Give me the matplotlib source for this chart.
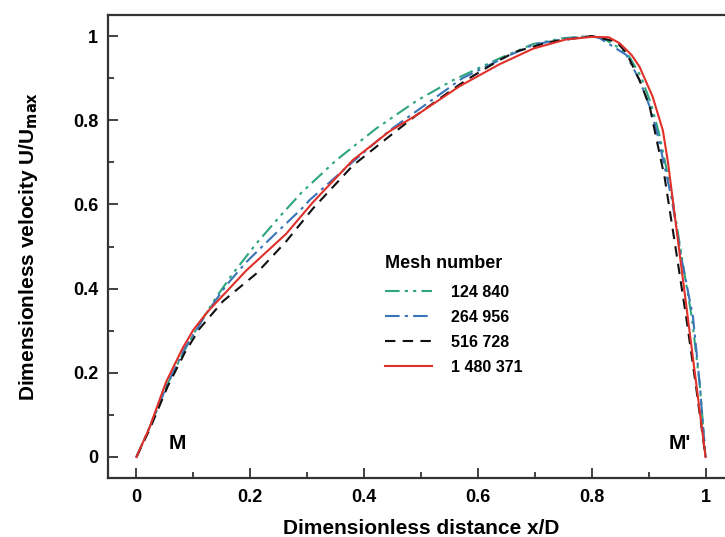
"""Velocity profile across the section for four mesh sizes."""
import matplotlib
matplotlib.use("Agg")
import matplotlib.pyplot as plt

# mesh labels
MESHES = ["124 840", "264 956", "516 728", "1 480 371"]

# 124 840 (green dash-dot-dot)
x_g = [0, 0.023, 0.055, 0.085, 0.11, 0.140, 0.169, 0.210, 0.251, 0.290, 0.351, 0.421,
       0.492, 0.556, 0.638, 0.697, 0.75, 0.80, 0.82, 0.862, 0.886, 0.904, 0.918, 0.94,
       0.96, 0.976, 0.99, 1.0]
y_g = [0, 0.07, 0.175, 0.255, 0.315, 0.379, 0.435, 0.506, 0.570, 0.628, 0.705, 0.780,
       0.846, 0.895, 0.947, 0.981, 0.995, 1.0, 0.995, 0.96, 0.905, 0.84, 0.77, 0.63,
       0.46, 0.33, 0.17, 0.0]

# 264 956 (blue dash-dot)
x_b = [0, 0.023, 0.055, 0.085, 0.125, 0.158, 0.193, 0.240, 0.292, 0.304, 0.380, 0.445,
       0.509, 0.573, 0.650, 0.697, 0.75, 0.80, 0.814, 0.861, 0.884, 0.902, 0.915, 0.94,
       0.958, 0.978, 0.99, 1.0]
y_b = [0, 0.07, 0.175, 0.258, 0.345, 0.408, 0.463, 0.525, 0.592, 0.610, 0.701, 0.776,
       0.838, 0.900, 0.951, 0.979, 0.993, 1.0, 0.995, 0.955, 0.895, 0.832, 0.77, 0.617,
       0.47, 0.332, 0.17, 0.0]

# 516 728 (black dashed)
x_k = [0, 0.023, 0.055, 0.085, 0.111, 0.152, 0.210, 0.263, 0.310, 0.380, 0.439, 0.492,
       0.550, 0.579, 0.638, 0.667, 0.726, 0.80, 0.843, 0.861, 0.884, 0.902, 0.913, 0.928,
       0.947, 0.966, 0.983, 1.0]
y_k = [0, 0.065, 0.168, 0.248, 0.305, 0.37, 0.435, 0.512, 0.59, 0.692, 0.756, 0.812,
       0.868, 0.895, 0.943, 0.963, 0.986, 1.0, 0.987, 0.96, 0.895, 0.832, 0.76, 0.665,
       0.50, 0.332, 0.17, 0.0]

# 1 480 371 (red solid)
x_r = [0, 0.023, 0.052, 0.081, 0.10, 0.125, 0.193, 0.263, 0.310, 0.380, 0.445, 0.492,
       0.568, 0.638, 0.697, 0.755, 0.80, 0.83, 0.849, 0.87, 0.884, 0.907, 0.925, 0.934,
       0.951, 0.968, 0.984, 1.0]
y_r = [0, 0.07, 0.178, 0.258, 0.302, 0.345, 0.443, 0.530, 0.605, 0.705, 0.774, 0.812,
       0.881, 0.933, 0.970, 0.992, 0.998, 0.997, 0.983, 0.955, 0.927, 0.856, 0.776, 0.70,
       0.52, 0.34, 0.17, 0.0]

SERIES = [(x_g, y_g), (x_b, y_b), (x_k, y_k), (x_r, y_r)]
COLORS = ["#2ea57f", "#3a74b8", "#111111", "#e0302a"]
DASHES = [(7, 2.5, 1.5, 2.5, 1.5, 2.5), (7, 2.5, 1.5, 2.5), (5, 3.5), None]

plt.rcParams.update({"font.family": ["Liberation Sans", "DejaVu Sans"], "font.weight": "bold",
                     "axes.labelweight": "bold"})

fig = plt.figure(figsize=(7.25, 5.37), dpi=100)
W, H = 725, 537
ax = fig.add_axes([108 / W, (H - 478) / H, 626 / W, 463 / H])

for (xs, ys), color, dash, label in zip(SERIES, COLORS, DASHES, MESHES):
    line, = ax.plot(xs, ys, color=color, linewidth=1.5, label=label)
    if dash is not None:
        line.set_dashes(dash)

ax.set_xlim(-0.05, 1.05)
ax.set_ylim(-0.05, 1.05)
ax.set_xticks([0, 0.2, 0.4, 0.6, 0.8, 1])
ax.set_xticklabels(["0", "0.2", "0.4", "0.6", "0.8", "1"])
ax.set_yticks([0, 0.2, 0.4, 0.6, 0.8, 1])
ax.set_yticklabels(["0", "0.2", "0.4", "0.6", "0.8", "1"])
ax.set_xticks([0.1, 0.3, 0.5, 0.7, 0.9], minor=True)
ax.set_yticks([0.1, 0.3, 0.5, 0.7, 0.9], minor=True)
ax.tick_params(which="both", direction="in", width=1.3, color="#333333", labelsize=13,
               top=False, right=False)
ax.tick_params(which="major", length=7)
ax.tick_params(which="minor", length=4.5)
ax.tick_params(axis="x", pad=8)
ax.tick_params(axis="y", pad=7)
for side in ["left", "bottom", "top"]:
    ax.spines[side].set_linewidth(1.6)
    ax.spines[side].set_color("#333333")
ax.spines["right"].set_visible(False)

ax.set_xlabel("Dimensionless distance x/D", fontsize=15, labelpad=9)
ax.set_ylabel(r"Dimensionless velocity U/U$_{\mathbf{max}}$", fontsize=15, labelpad=24)

ax.text(0.072, 0.033, "M", fontsize=15, fontweight="bold", ha="center", va="center")
ax.text(0.954, 0.033, "M'", fontsize=15, fontweight="bold", ha="center", va="center")

leg = ax.legend(loc="upper left", bbox_to_anchor=(371 / W, 1 - 241 / H),
                bbox_transform=fig.transFigure, frameon=False, title="Mesh number",
                fontsize=11.5, handlelength=2.9, handletextpad=1.2, labelspacing=0.62,
                alignment="left")
leg.get_title().set_fontweight("bold")
leg.get_title().set_fontsize(13)
# a bit more room between the title and the first entry, as in the original
leg._legend_box.sep = 9

fig.savefig("out.png", dpi=100)
